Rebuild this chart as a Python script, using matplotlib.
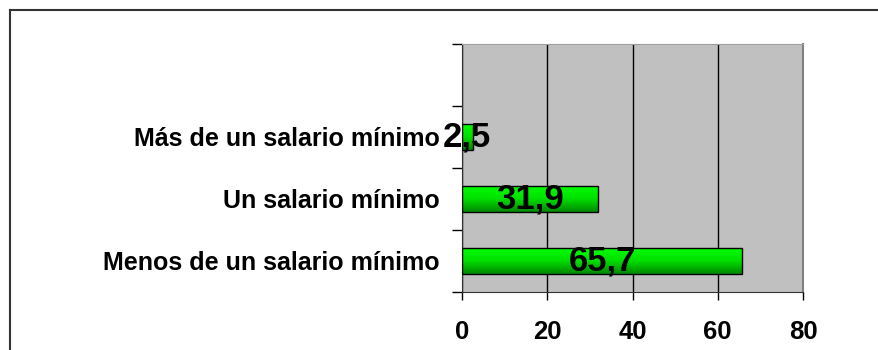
import matplotlib
matplotlib.use("Agg")
import matplotlib.pyplot as plt
import numpy as np
from matplotlib.colors import LinearSegmentedColormap

categories = ["Menos de un salario mínimo", "Un salario mínimo", "Más de un salario mínimo"]
values = [65.7, 31.9, 2.5]
value_labels = ["65,7", "31,9", "2,5"]
xticks = [0, 20, 40, 60, 80]

plt.rcParams["font.family"] = ["Liberation Sans", "DejaVu Sans"]

fig = plt.figure(figsize=(8.79, 3.5), dpi=100)
ax = fig.add_axes([462 / 879, 1 - 292 / 350, (803 - 462) / 879, (292 - 44) / 350])
ax.set_facecolor("#C0C0C0")

# Outer chart frame (left and top edges visible)
fig.add_artist(plt.Line2D([9.5 / 879, 9.5 / 879], [0, 1 - 10 / 350], color="#333333", lw=1.5))
fig.add_artist(plt.Line2D([9.5 / 879, 1], [1 - 10 / 350, 1 - 10 / 350], color="#333333", lw=1.5))

y = np.arange(len(categories))
bars = ax.barh(y, values, height=0.42, color="none", edgecolor="black", linewidth=1.0, zorder=3)

cmap = LinearSegmentedColormap.from_list("grn", ["#00FF00", "#00E000", "#008800"])
grad = np.linspace(0, 1, 64).reshape(-1, 1)
for b in bars:
    x0, y0 = b.get_x(), b.get_y()
    w, h = b.get_width(), b.get_height()
    im = ax.imshow(grad, cmap=cmap, aspect="auto", extent=[x0, x0 + w, y0, y0 + h],
                   origin="upper", zorder=2)
    im.set_clip_path(b)

for b, lab in zip(bars, value_labels):
    ax.text(b.get_x() + b.get_width() / 2, b.get_y() + b.get_height() / 2, lab,
            ha="center", va="center", fontsize=25, fontweight="bold", color="black", zorder=5)

ax.set_xlim(0, 80)
ax.set_ylim(-0.5, 3.5)
ax.set_xticks(xticks)
ax.set_xticklabels([str(t) for t in xticks], fontsize=18.5, fontweight="bold")
ax.set_yticks(np.arange(-0.5, 3.6, 1.0), minor=False)
ax.set_yticklabels([])
ax.set_yticks(y, minor=True)
ax.set_yticklabels(categories, minor=True, fontsize=18, fontweight="bold")
ax.tick_params(axis="y", which="minor", length=0, pad=16)
ax.tick_params(axis="y", which="major", length=7, width=1, color="black", direction="out")
ax.tick_params(axis="x", length=6, width=1, direction="out", pad=14.5)

ax.grid(axis="x", color="black", linewidth=1, zorder=1)
ax.set_axisbelow(True)
ax.spines["left"].set_color("#333333")
ax.spines["bottom"].set_color("#333333")
ax.spines["top"].set_color("#A0A0A0")
ax.spines["right"].set_color("#808080")
ax.spines["right"].set_linewidth(1.5)

fig.savefig("out.png", dpi=100)
